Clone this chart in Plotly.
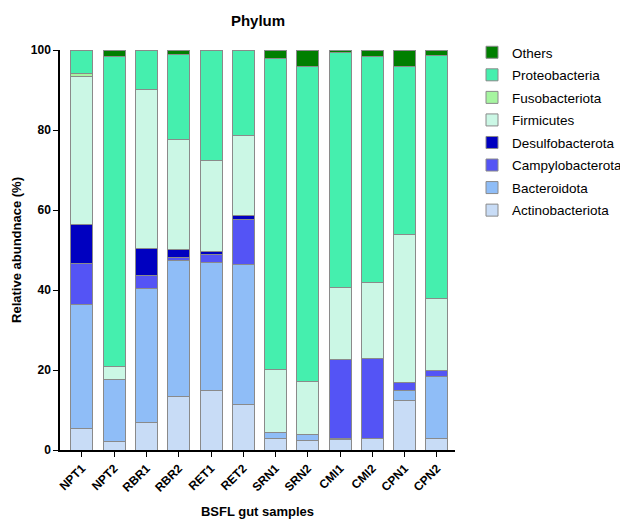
import plotly.graph_objects as go

samples = ["NPT1", "NPT2", "RBR1", "RBR2", "RET1", "RET2",
           "SRN1", "SRN2", "CMI1", "CMI2", "CPN1", "CPN2"]

actinobacteriota = [5.4, 2.1, 6.9, 13.5, 14.8, 11.3, 2.9, 2.4, 2.6, 2.9, 12.5, 2.9]
bacteroidota     = [31.0, 15.6, 33.6, 33.9, 32.1, 35.1, 1.5, 1.5, 0.3, 0.0, 2.5, 15.6]
campylobacterota = [10.2, 0.0, 3.2, 0.7, 1.9, 11.2, 0.0, 0.0, 19.7, 20.0, 1.8, 1.3]
desulfobacterota = [9.7, 0.0, 6.8, 2.0, 0.8, 1.0, 0.0, 0.0, 0.0, 0.0, 0.0, 0.0]
firmicutes       = [37.0, 3.3, 39.6, 27.5, 22.9, 20.0, 15.7, 13.3, 18.0, 18.9, 37.2, 18.1]
fusobacteriota   = [0.9, 0.0, 0.0, 0.0, 0.0, 0.0, 0.0, 0.0, 0.0, 0.0, 0.0, 0.0]
proteobacteria   = [5.8, 77.3, 9.9, 21.2, 27.5, 21.4, 77.7, 78.6, 58.9, 56.5, 41.8, 60.7]
others           = [0.0, 1.7, 0.0, 1.2, 0.0, 0.0, 2.2, 4.2, 0.5, 1.7, 4.2, 1.4]

series = [
    ("Actinobacteriota", actinobacteriota, "#C8DCF6"),
    ("Bacteroidota", bacteroidota, "#8FBDF7"),
    ("Campylobacterota", campylobacterota, "#5454F5"),
    ("Desulfobacterota", desulfobacterota, "#0000C0"),
    ("Firmicutes", firmicutes, "#CBF7E5"),
    ("Fusobacteriota", fusobacteriota, "#A6F5A0"),
    ("Proteobacteria", proteobacteria, "#45EFAE"),
    ("Others", others, "#007F00"),
]

font_family = "Liberation Sans, Arial, sans-serif"

# page body has an 8px margin; figure is sized to fit the 628x519 window
W, H, OFF = 620, 511, 8

fig = go.Figure()
n = len(series)
for i, (name, vals, color) in enumerate(series):
    fig.add_trace(go.Bar(
        x=samples, y=vals, name=name, legendgroup=name, legendrank=n - i,
        marker=dict(color=color, line=dict(color="#8a8a8a", width=1)),
        cliponaxis=False,
    ))

fig.update_layout(
    width=W, height=H,
    barmode="stack", bargap=0.32,
    plot_bgcolor="white", paper_bgcolor="white",
    margin=dict(l=52, r=173, t=42, b=69, autoexpand=False),
    font=dict(family=font_family, color="black"),
    title=dict(text="Phylum", xref="container", yref="container",
               x=(258 - OFF) / W, xanchor="center",
               y=1 - (21 - OFF) / H, yanchor="middle",
               font=dict(size=15, weight="bold", family=font_family)),
    legend=dict(
        traceorder="grouped", tracegroupgap=2,
        xref="container", yref="container",
        x=(472 - OFF) / W, y=1 - (37 - OFF) / H, xanchor="left", yanchor="top",
        font=dict(size=13.5, family=font_family),
        bgcolor="rgba(0,0,0,0)",
    ),
    xaxis=dict(
        range=[-0.68, 11.56], showline=True, linecolor="black", linewidth=1.5,
        ticks="outside", ticklen=5, tickwidth=1.3, tickcolor="black",
        tickangle=-45, tickfont=dict(size=12, weight="bold", family=font_family),
        title=dict(text="BSFL gut samples", standoff=22,
                   font=dict(size=13, weight="bold", family=font_family)),
        showgrid=False, zeroline=False,
    ),
    yaxis=dict(
        range=[0, 100], showline=True, linecolor="black", linewidth=1.5,
        ticks="outside", ticklen=5, tickwidth=1.3, tickcolor="black",
        tickvals=[0, 20, 40, 60, 80, 100],
        tickfont=dict(size=12, weight="bold", family=font_family),
        title=dict(text="Relative abundnace (%)", standoff=6,
                   font=dict(size=13, weight="bold", family=font_family)),
        showgrid=False, zeroline=False,
    ),
)

fig.write_html("out.html")
